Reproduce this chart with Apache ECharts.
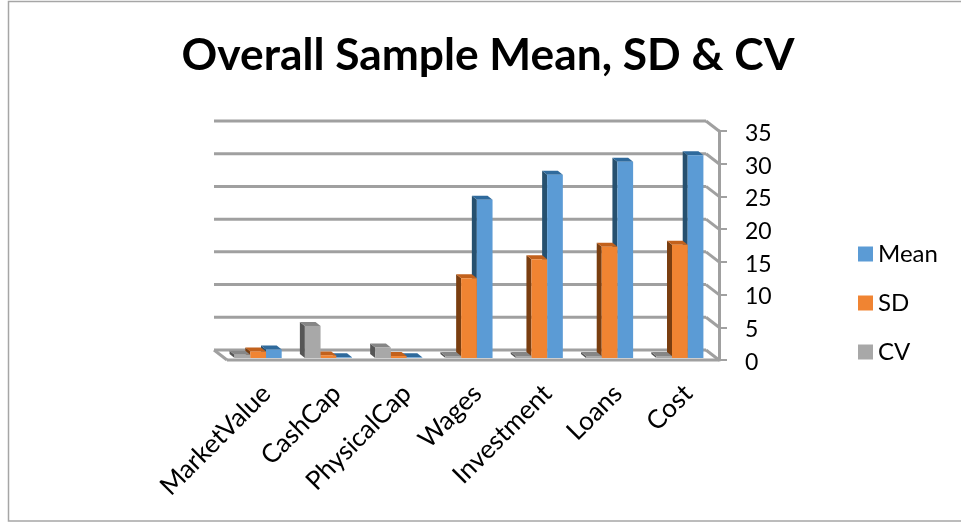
<!DOCTYPE html>
<html>
<head>
<meta charset="utf-8">
<style>
html, body { margin: 0; padding: 0; background: #fff; }
#main { width: 961px; height: 522px; }
</style>
<script src="https://cdn.jsdelivr.net/npm/echarts@6/dist/echarts.min.js"></script>
</head>
<body>
<div id="main"></div>
<script>
const categories = ['MarketValue', 'CashCap', 'PhysicalCap', 'Wages', 'Investment', 'Loans', 'Cost'];
const meanValues = [1.3, 0.1, 0.1, 24.2, 28, 30, 31];
const sdValues = [1, 0.4, 0.3, 12.2, 15.1, 17, 17.3];
const cvValues = [0.5, 4.9, 1.6, 0.3, 0.3, 0.3, 0.3];
const yTicks = [0, 5, 10, 15, 20, 25, 30, 35];

const FONT = 'Lato, "Open Sans", sans-serif';
const BAR_W = 15.7;
const WALL_DX = -13, WALL_DY = -10;   // back wall offset from the front axis
const SIDE_DX = -5, SIDE_DY = -4;     // depth of a bar

// 3d looking bar: side and top faces first, then the front
function bar3d(slot, colors) {
    return function (params, api) {
        const top = api.coord([api.value(0), api.value(1)]);
        const base = api.coord([api.value(0), 0]);
        const x0 = top[0] - 4 + (slot - 0.5) * BAR_W;
        const x1 = x0 + BAR_W;
        const y = top[1] - 2;
        const y0 = base[1] - 2;
        return {
            type: 'group',
            children: [
                { type: 'polygon', shape: { points: [[x0, y], [x0 + SIDE_DX, y + SIDE_DY], [x0 + SIDE_DX, y0 + SIDE_DY], [x0, y0]] }, style: { fill: colors.side } },
                { type: 'polygon', shape: { points: [[x0, y], [x0 + SIDE_DX, y + SIDE_DY], [x1 + SIDE_DX, y + SIDE_DY], [x1, y]] }, style: { fill: colors.top } },
                { type: 'rect', shape: { x: x0, y: y, width: BAR_W, height: y0 - y }, style: { fill: colors.front } }
            ]
        };
    };
}

function renderWall(params, api) {
    const cs = params.coordSys;
    const v = api.value(1);
    const y = api.coord([0, v])[1];
    const right = cs.x + cs.width;
    const line = { stroke: '#a0a0a0', lineWidth: 3, fill: null };
    const children = [
        { type: 'line', shape: { x1: cs.x + WALL_DX, y1: y + WALL_DY, x2: right + WALL_DX, y2: y + WALL_DY }, style: line },
        { type: 'line', shape: { x1: right + WALL_DX, y1: y + WALL_DY, x2: right, y2: y }, style: line }
    ];
    if (v === 0) {
        children.push({ type: 'line', shape: { x1: cs.x + WALL_DX, y1: y + WALL_DY, x2: cs.x, y2: y }, style: line });
        children.push({ type: 'line', shape: { x1: cs.x, y1: y, x2: right, y2: y }, style: line });
    }
    return { type: 'group', children: children };
}

const meanColors = { front: '#5b9bd5', side: '#26506f', top: '#2f6a9c' };
const sdColors = { front: '#f08432', side: '#7a3e10', top: '#c2611c' };
const cvColors = { front: '#a8a8a8', side: '#565656', top: '#868686' };

const option = {
    animation: false,
    backgroundColor: '#fff',
    title: {
        text: 'Overall Sample Mean, SD & CV',
        left: 483,
        top: 29,
        textAlign: 'center',
        textStyle: { fontFamily: FONT, fontSize: 44.3, fontWeight: 'bold', color: '#000' }
    },
    legend: {
        data: ['Mean', 'SD', 'CV'],
        orient: 'vertical',
        left: 853,
        top: 237,
        icon: 'rect',
        itemWidth: 15,
        itemHeight: 15,
        itemGap: 25,
        textStyle: { fontFamily: FONT, fontSize: 24, color: '#000', lineHeight: 15 }
    },
    grid: { left: 227, right: 242, top: 131, bottom: 162 },
    xAxis: {
        type: 'category',
        data: categories,
        axisLine: { show: false },
        axisTick: { show: false },
        axisLabel: {
            rotate: 45,
            interval: 0,
            margin: 25,
            formatter: '{a|{value}}',
            rich: { a: { padding: [12, 0, 0, 0], fontFamily: FONT, fontSize: 26, color: '#000' } }
        }
    },
    yAxis: {
        type: 'value',
        position: 'right',
        min: 0,
        max: 35,
        interval: 5,
        splitLine: { show: false },
        axisLine: { show: true, lineStyle: { color: '#a0a0a0', width: 3 } },
        axisTick: { show: true, length: 8, lineStyle: { color: '#a0a0a0', width: 2 } },
        axisLabel: {
            margin: 26,
            formatter: '{a|{value}}',
            rich: { a: { padding: [5, 0, 0, 0], fontFamily: FONT, fontSize: 23, color: '#000' } }
        }
    },
    graphic: [{
        type: 'rect',
        shape: { x: 8.5, y: 1.5, width: 960, height: 519.5 },
        style: { fill: null, stroke: '#a6a6a6', lineWidth: 1.5 },
        silent: true
    }],
    series: [
        {
            name: 'walls',
            type: 'custom',
            silent: true,
            renderItem: renderWall,
            data: yTicks.map(v => [0, v])
        },
        {
            name: 'Mean',
            type: 'custom',
            itemStyle: { color: meanColors.front },
            renderItem: bar3d(1, meanColors),
            data: meanValues.map((v, i) => [i, v])
        },
        {
            name: 'SD',
            type: 'custom',
            itemStyle: { color: sdColors.front },
            renderItem: bar3d(0, sdColors),
            data: sdValues.map((v, i) => [i, v])
        },
        {
            name: 'CV',
            type: 'custom',
            itemStyle: { color: cvColors.front },
            renderItem: bar3d(-1, cvColors),
            data: cvValues.map((v, i) => [i, v])
        }
    ]
};

const myChart = echarts.init(document.getElementById('main'));
myChart.setOption(option);
</script>
</body>
</html>
